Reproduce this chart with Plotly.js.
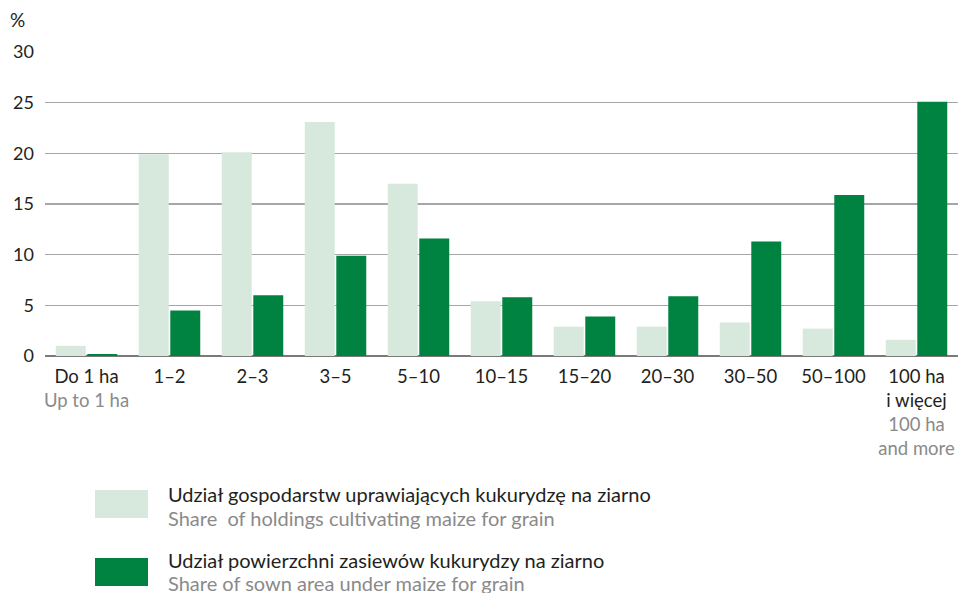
<!DOCTYPE html>
<html>
<head>
<meta charset="utf-8">
<script src="https://cdn.plot.ly/plotly-3.0.1.min.js"></script>
<style>html,body{margin:0;padding:0;background:#fff;}#chart{width:963px;height:593px;}</style>
</head>
<body>
<div id="chart"></div>
<script>
const categoriesPL = ["Do 1 ha", "1–2", "2–3", "3–5", "5–10", "10–15", "15–20", "20–30", "30–50", "50–100", "100 ha<br>i więcej"];
const categoriesEN = ["Up to 1 ha", "", "", "", "", "", "", "", "", "", "100 ha<br>and more"];
const holdingsShare = [1.0, 19.9, 20.1, 23.1, 17.0, 5.4, 2.9, 2.9, 3.3, 2.7, 1.6];
const areaShare = [0.2, 4.5, 6.0, 9.9, 11.6, 5.8, 3.9, 5.9, 11.3, 15.9, 25.1];
const seriesPL = ["Udział gospodarstw uprawiających kukurydzę na ziarno", "Udział powierzchni zasiewów kukurydzy na ziarno"];
const seriesEN = ["Share  of holdings cultivating maize for grain", "Share of sown area under maize for grain"];
const yTicks = [0, 5, 10, 15, 20, 25, 30];

const lightColor = "#d6e9dc";
const darkColor = "#008240";
const greyText = "#8a8a8a";
const darkText = "#231f20";
const FONT = "Lato, 'Open Sans', sans-serif";

const tickText = categoriesPL.map((c, i) =>
  categoriesEN[i] ? c + "<br><span style='color:" + greyText + "'>" + categoriesEN[i] + "</span>" : c);

const x = categoriesPL.map((c, i) => i);

const data = [
  {type: "bar", x: x, y: holdingsShare, name: seriesPL[0], marker: {color: lightColor}, hoverinfo: "y"},
  {type: "bar", x: x, y: areaShare, name: seriesPL[1], marker: {color: darkColor}, hoverinfo: "y"}
];

const L = 45, T = 52, PW = 913, PH = 304, Y0 = 356;
const px = v => (v - L) / PW;
const py = v => (Y0 - v) / PH;

const layout = {
  width: 963, height: 593,
  margin: {l: L, r: 5, t: T, b: 237},
  paper_bgcolor: "#fff", plot_bgcolor: "#fff",
  font: {family: FONT, size: 18, color: darkText},
  showlegend: false,
  barmode: "group",
  bargap: 0.24,
  bargroupgap: 0.05,
  xaxis: {
    tickmode: "array", tickvals: x, ticktext: tickText,
    range: [-0.5, categoriesPL.length - 0.5],
    showgrid: false, zeroline: false, showline: false, ticks: "",
    ticklabelstandoff: 7,
    tickfont: {family: FONT, size: 18.5, color: darkText}
  },
  yaxis: {
    range: [0, 30], tickmode: "array", tickvals: yTicks,
    showgrid: true, gridcolor: "#a6a6a6", gridwidth: 1.3,
    zeroline: true, zerolinecolor: "#7a7a7a", zerolinewidth: 1.6,
    showline: false, ticks: "", ticklabelstandoff: 10,
    tickfont: {family: FONT, size: 18, color: darkText}
  },
  shapes: [
    {type: "rect", xref: "paper", yref: "paper", x0: px(95), x1: px(148), y0: py(518), y1: py(490), fillcolor: lightColor, line: {width: 0}},
    {type: "rect", xref: "paper", yref: "paper", x0: px(95), x1: px(148), y0: py(586), y1: py(558), fillcolor: darkColor, line: {width: 0}}
  ],
  annotations: [
    {xref: "paper", yref: "paper", x: px(8), y: py(20), xanchor: "left", yanchor: "middle", text: "%", showarrow: false, font: {family: FONT, size: 19, color: darkText}},
    {xref: "paper", yref: "paper", x: px(166), y: py(494), xanchor: "left", yanchor: "middle", text: seriesPL[0], showarrow: false, font: {family: FONT, size: 20, color: darkText}},
    {xref: "paper", yref: "paper", x: px(166), y: py(518), xanchor: "left", yanchor: "middle", text: seriesEN[0], showarrow: false, font: {family: FONT, size: 20, color: greyText}},
    {xref: "paper", yref: "paper", x: px(166), y: py(560), xanchor: "left", yanchor: "middle", text: seriesPL[1], showarrow: false, font: {family: FONT, size: 20, color: darkText}},
    {xref: "paper", yref: "paper", x: px(166), y: py(583), xanchor: "left", yanchor: "middle", text: seriesEN[1], showarrow: false, font: {family: FONT, size: 20, color: greyText}}
  ]
};

Plotly.newPlot("chart", data, layout, {displayModeBar: false, staticPlot: true});
</script>
</body>
</html>
